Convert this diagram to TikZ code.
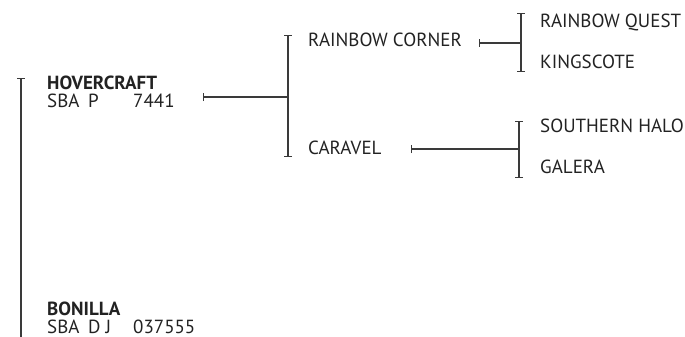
\documentclass[tikz,border=0pt]{standalone}
\usepackage{fontspec}
\setmainfont{PT Sans}
\usepackage{tikz}
\usetikzlibrary{arrows.meta,positioning,calc}
\definecolor{inkline}{HTML}{3A3A3A}
\definecolor{inktext}{HTML}{222222}
\newcommand{\regline}[3]{\makebox[41pt][l]{#1}\makebox[45pt][l]{#2}#3}

\begin{document}
\begin{tikzpicture}[x=1pt,y=-1pt,
  font=\fontsize{19}{18}\selectfont,
  horse/.style={inner sep=0pt,anchor=base west,align=left,text=inktext},
  brk/.style={draw=inkline,line width=1.2pt,{Bar[width=8pt,line width=1.2pt]}-{Bar[width=8pt,line width=1.2pt]}},
  brkopen/.style={draw=inkline,line width=1.2pt,{Bar[width=8pt,line width=1.2pt]}-},
  stem/.style={draw=inkline,line width=1.2pt,{Bar[width=8pt,line width=1.2pt]}-}]
\useasboundingbox (0,0) rectangle (685,337);
% horses (a two-line node sits on its last baseline)
\node[horse] (hover) at (47,107) {\textbf{HOVERCRAFT}\\\regline{SBA}{P}{7441}};
\node[horse] (bonilla) at (47,333) {\textbf{BONILLA}\\\regline{SBA}{D J}{037555}};
\node[horse] (rcorner) at (308,47) {RAINBOW CORNER};
\node[horse] (caravel) at (308,154) {CARAVEL};
\node[horse] (rquest) at (540,28) {RAINBOW QUEST};
\node[horse] (kings) at (540,68) {KINGSCOTE};
\node[horse] (shalo) at (540,132) {SOUTHERN HALO};
\node[horse] (galera) at (540,173) {GALERA};
% brackets
\coordinate (ltop) at (21,78);
\coordinate (lbot) at (21,340);
\coordinate (mtop) at (288,35);
\coordinate (mbot) at (288,157);
\coordinate (utop) at (521,13);
\coordinate (ubot) at (521,72);
\coordinate (dtop) at (519,121);
\coordinate (dbot) at (519,178);
\draw[brkopen] (ltop) -- (lbot);
\draw[brk] (mtop) -- (mbot);
\draw[brk] (utop) -- (ubot);
\draw[brk] (dtop) -- (dbot);
% stems
\coordinate (hs) at (203,97);
\coordinate (rs) at (479,43);
\coordinate (cs) at (411,149);
\draw[stem] (hs) -- (hs -| mtop);
\draw[stem] (rs) -- (rs -| utop);
\draw[stem] (cs) -- (cs -| dtop);
\end{tikzpicture}
\end{document}
